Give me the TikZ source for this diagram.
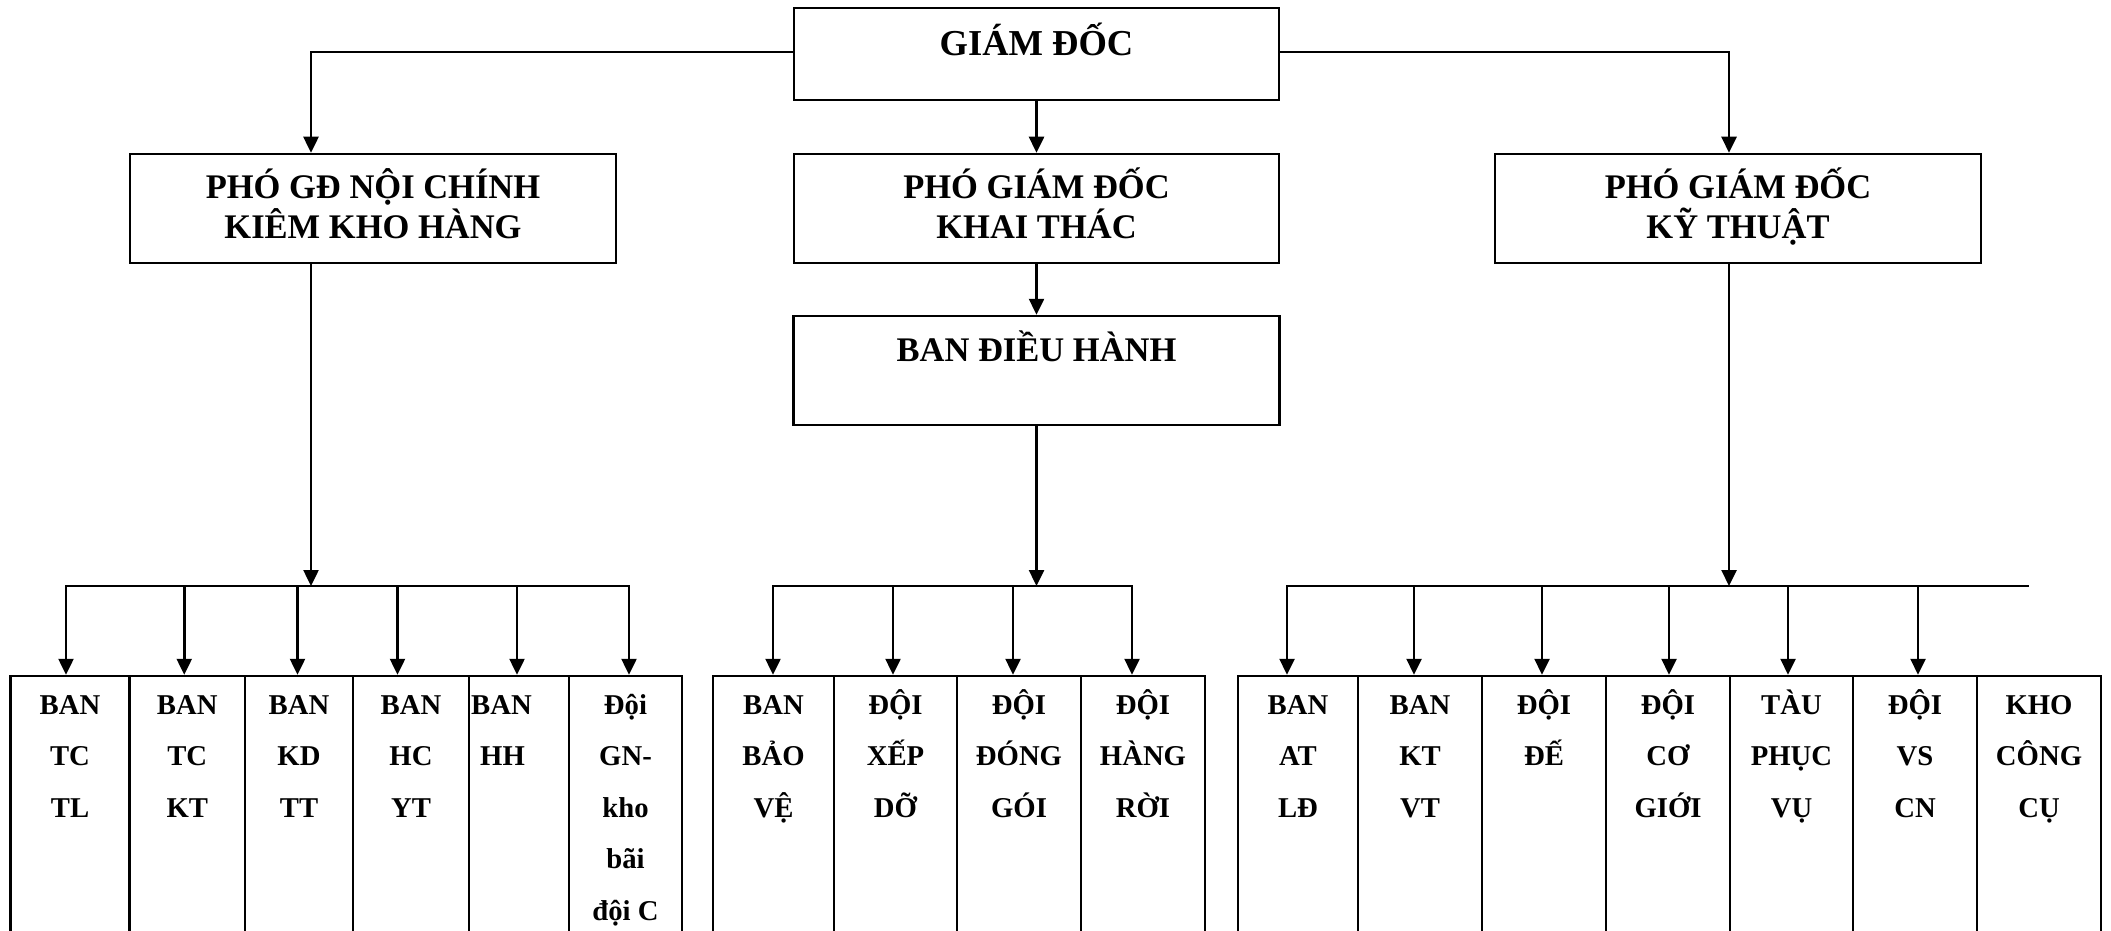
\documentclass[tikz,border=0pt]{standalone}
\usepackage{fontspec}
\setmainfont{Liberation Serif}
\usetikzlibrary{arrows.meta}
\newcommand{\myrs}{\rule{0pt}{30pt}}
\newcommand{\myrm}{\rule{0pt}{36pt}}
\begin{document}
\begin{tikzpicture}[x=1pt,y=-1pt,
  box/.style={draw, line width=2.5pt, rectangle, inner sep=0pt},
  ln/.style={line width=2.5pt, line cap=rect},
  arr/.style={line width=2.5pt, -{Triangle[length=16pt,width=15pt]}},
  ttl/.style={inner sep=0pt, anchor=north, align=center, font=\bfseries\fontsize{36.5}{40}\selectfont},
  mid/.style={inner sep=0pt, anchor=north, align=center, font=\bfseries\fontsize{34.5}{40}\selectfont},
  sm/.style={inner sep=0pt, anchor=north, align=center, font=\bfseries\fontsize{28.7}{51.5}\selectfont},
  bot/.style={box, minimum height=290pt},
]
\fill[white] (0,0) rectangle (2111,931);
\clip (0,0) rectangle (2111,931);

% top levels
\node[box, minimum width=485pt, minimum height=92pt] (gd) at (1036.5,54) {};
\node[ttl] (gdt) at (1036.5,19) {\myrm GIÁM ĐỐC};

\node[box, minimum width=486pt, minimum height=109pt] (pgd1) at (373,208.5) {};
\node[mid] (pgd1t) at (373,162) {\myrm PHÓ GĐ NỘI CHÍNH\\KIÊM KHO HÀNG};
\node[box, minimum width=485pt, minimum height=109pt] (pgd2) at (1036.5,208.5) {};
\node[mid] (pgd2t) at (1036.5,162) {\myrm PHÓ GIÁM ĐỐC\\KHAI THÁC};
\node[box, minimum width=486pt, minimum height=109pt] (pgd3) at (1738,208.5) {};
\node[mid] (pgd3t) at (1738,162) {\myrm PHÓ GIÁM ĐỐC\\KỸ THUẬT};

\node[box, minimum width=486pt, minimum height=109pt] (dh) at (1036.5,370.5) {};
\node[mid] (dht) at (1036.5,325) {\myrm BAN ĐIỀU HÀNH};

% bottom boxes
\node[bot, minimum width=119pt] (L1) at (70,821) {};
\node[bot, minimum width=115.5pt] (L2) at (187.25,821) {};
\node[bot, minimum width=108pt] (L3) at (299,821) {};
\node[bot, minimum width=116pt] (L4) at (411,821) {};
\node[bot, minimum width=100pt] (L5) at (519,821) {};
\node[bot, minimum width=113pt] (L6) at (625.5,821) {};
\node[bot, minimum width=121pt] (M1) at (773.5,821) {};
\node[bot, minimum width=123pt] (M2) at (895.5,821) {};
\node[bot, minimum width=124pt] (M3) at (1019,821) {};
\node[bot, minimum width=124pt] (M4) at (1143,821) {};
\node[bot, minimum width=120pt] (R1) at (1298,821) {};
\node[bot, minimum width=124pt] (R2) at (1420,821) {};
\node[bot, minimum width=124pt] (R3) at (1544,821) {};
\node[bot, minimum width=124pt] (R4) at (1668,821) {};
\node[bot, minimum width=123pt] (R5) at (1791.5,821) {};
\node[bot, minimum width=124pt] (R6) at (1915,821) {};
\node[bot, minimum width=124pt] (R7) at (2039,821) {};

\node[sm] (L1t) at (70,684) {\myrs BAN\\TC\\TL};
\node[sm] (L2t) at (187.25,684) {\myrs BAN\\TC\\KT};
\node[sm] (L3t) at (299,684) {\myrs BAN\\KD\\TT};
\node[sm] (L4t) at (411,684) {\myrs BAN\\HC\\YT};
\node[sm, anchor=north west, align=left] (L5t) at (471,684) {\myrs BAN\\\hspace*{9pt}HH};
\node[sm] (L6t) at (625.5,684) {\myrs Đội\\GN-\\kho\\bãi\\đội C};
\node[sm] (M1t) at (773.5,684) {\myrs BAN\\BẢO\\VỆ};
\node[sm] (M2t) at (895.5,684) {\myrs ĐỘI\\XẾP\\DỠ};
\node[sm] (M3t) at (1019,684) {\myrs ĐỘI\\ĐÓNG\\GÓI};
\node[sm] (M4t) at (1143,684) {\myrs ĐỘI\\HÀNG\\RỜI};
\node[sm] (R1t) at (1298,684) {\myrs BAN\\AT\\LĐ};
\node[sm] (R2t) at (1420,684) {\myrs BAN\\KT\\VT};
\node[sm] (R3t) at (1544,684) {\myrs ĐỘI\\ĐẾ};
\node[sm] (R4t) at (1668,684) {\myrs ĐỘI\\CƠ\\GIỚI};
\node[sm] (R5t) at (1791.5,684) {\myrs TÀU\\PHỤC\\VỤ};
\node[sm] (R6t) at (1915,684) {\myrs ĐỘI\\VS\\CN};
\node[sm] (R7t) at (2039,684) {\myrs KHO\\CÔNG\\CỤ};

% bus points
\coordinate (busL) at (311,586);
\coordinate (busM) at (1036.5,586);
\coordinate (busR) at (1729,586);
\coordinate (busRend) at (2028,586);

% top connectors
\draw[arr] ([yshift=2pt]gd.west) -| ([xshift=-62pt]pgd1.north);
\draw[arr] ([yshift=2pt]gd.east) -| ([xshift=-9pt]pgd3.north);
\draw[arr] (gd.south) -- (pgd2.north);
\draw[arr] (pgd2.south) -- (dh.north);
\draw[arr] (dh.south) -- (busM);
\draw[arr] ([xshift=-62pt]pgd1.south) -- (busL);
\draw[arr] ([xshift=-9pt]pgd3.south) -- (busR);

% branch arrows
\foreach \n/\d in {L1/-4,L2/-3,L3/-1.5,L4/-13.5,L5/-2,L6/3.5}{
  \coordinate (a\n) at ([xshift=\d pt]\n.north);
  \draw[arr] (a\n |- busL) -- (a\n);
}
\foreach \n/\d in {M1/-0.5,M2/-2.5,M3/-6,M4/-11}{
  \coordinate (a\n) at ([xshift=\d pt]\n.north);
  \draw[arr] (a\n |- busM) -- (a\n);
}
\foreach \n/\d in {R1/-11,R2/-6,R3/-2,R4/1,R5/-3.5,R6/3}{
  \coordinate (a\n) at ([xshift=\d pt]\n.north);
  \draw[arr] (a\n |- busR) -- (a\n);
}
\draw[ln] (aL1 |- busL) -- (aL6 |- busL);
\draw[ln] (aM1 |- busM) -- (aM4 |- busM);
\draw[ln] (aR1 |- busR) -- (busRend);
\end{tikzpicture}
\end{document}
